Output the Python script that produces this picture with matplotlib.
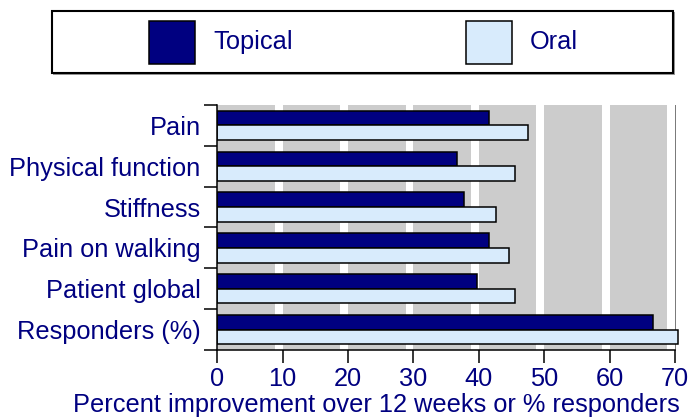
import matplotlib
matplotlib.use("Agg")
import matplotlib.pyplot as plt
import numpy as np
from matplotlib.patches import Rectangle

plt.rcParams['font.family'] = ['Liberation Sans', 'DejaVu Sans']

# data
categories = ["Pain", "Physical function", "Stiffness", "Pain on walking",
              "Patient global", "Responders (%)"]
topical = [41.6, 36.7, 37.7, 41.6, 39.7, 66.7]
oral = [47.5, 45.5, 42.6, 44.6, 45.5, 70.5]
series_names = ["Topical", "Oral"]
x_ticks = [0, 10, 20, 30, 40, 50, 60, 70]
x_label = "Percent improvement over 12 weeks or % responders"

navy = '#000080'
light = '#d8ebfc'
grey_bg = '#cccccc'
fs = 18.3

fig = plt.figure(figsize=(6.91, 4.19), dpi=100)
ax = fig.add_axes([217.3 / 691, 1 - 350 / 419, (679 - 217.3) / 691, 245 / 419])

# background: grey with white gaps just left of each gridline
ax.set_facecolor(grey_bg)
xmax = 70.6
for v in x_ticks[1:]:
    ax.axvspan(v - 1.2, v, color='white', lw=0, zorder=0.5)
ax.axvspan(70, xmax, color='white', lw=0, zorder=0.5)
ax.axvline(70, color='#777777', lw=0.7, zorder=0.6)

# bars
n = len(categories)
centers = np.arange(n) + 0.5
h = 0.36
ax.barh(centers - h / 2, topical, height=h, color=navy, edgecolor='black',
        linewidth=1.1, zorder=2)
ax.barh(centers + h / 2, oral, height=h, color=light, edgecolor='black',
        linewidth=1.1, zorder=2)

ax.set_xlim(0, xmax)
ax.set_ylim(n, 0)

# axes styling
for s in ['top', 'right']:
    ax.spines[s].set_visible(False)
ax.spines['left'].set_linewidth(1.1)
ax.spines['bottom'].set_linewidth(1.1)
ax.spines['bottom'].set_bounds(0, 70)

ax.set_yticks(np.arange(n + 1))
ax.set_yticklabels([])
ax.set_yticks(centers, minor=True)
ax.set_yticklabels(categories, minor=True, fontsize=fs, color=navy)
ax.tick_params(axis='y', which='major', direction='out', length=9.5, width=1.1)
ax.tick_params(axis='y', which='minor', length=0, pad=12)

ax.set_xticks(x_ticks)
ax.set_xticklabels([str(t) for t in x_ticks], fontsize=fs, color=navy)
ax.tick_params(axis='x', direction='out', length=9, width=1.1, pad=3)
ax.set_xlabel(x_label, fontsize=fs, color=navy)
ax.xaxis.set_label_coords((376.5 - 217.3) / 461.7, -0.177)

# legend box drawn in figure pixels
W, H = 691, 419
def fx(px):
    return px / W
def fy(py):
    return 1 - py / H

fig.patches.append(Rectangle((fx(53), fy(75)), fx(674 - 52), 63 / H,
                             transform=fig.transFigure, facecolor='#999999',
                             edgecolor='none', zorder=1))
fig.patches.append(Rectangle((fx(52), fy(73.5)), fx(673 - 52), 62 / H,
                             transform=fig.transFigure, facecolor='white',
                             edgecolor='black', linewidth=1.5, zorder=2))
for name, col, px, tx in zip(series_names, [navy, light], [149, 466], [213, 530]):
    fig.patches.append(Rectangle((fx(px), fy(64)), fx(46), 43 / H,
                                 transform=fig.transFigure, facecolor=col,
                                 edgecolor='black', linewidth=1.1, zorder=3))
    fig.text(fx(tx), fy(42), name, fontsize=fs, color=navy, va='center',
             ha='left', zorder=4)

fig.savefig("out.png", dpi=100)
